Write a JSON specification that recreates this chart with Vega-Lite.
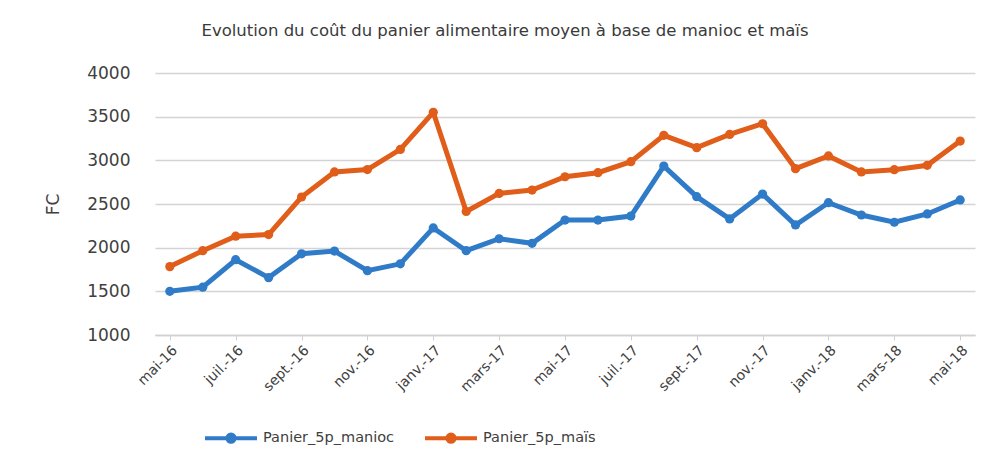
{
  "$schema": "https://vega.github.io/schema/vega-lite/v6.json",
  "autosize": {"type": "none"},
  "width": 820,
  "height": 262,
  "padding": {"left": 155, "top": 73, "right": 18, "bottom": 134},
  "background": "white",
  "title": {
    "text": "Evolution du coût du panier alimentaire moyen à base de manioc et maïs",
    "font": "DejaVu Sans",
    "fontSize": 16.5,
    "fontWeight": "normal",
    "color": "#3a3a3a",
    "anchor": "middle",
    "dx": -60,
    "offset": 25
  },
  "data": {
    "values": [
      {"mois": "mai-16", "i": 0, "manioc": 1500, "mais": 1783},
      {"mois": "juin-16", "i": 1, "manioc": 1547, "mais": 1965},
      {"mois": "juil.-16", "i": 2, "manioc": 1862, "mais": 2132},
      {"mois": "août-16", "i": 3, "manioc": 1657, "mais": 2150},
      {"mois": "sept.-16", "i": 4, "manioc": 1930, "mais": 2580},
      {"mois": "oct.-16", "i": 5, "manioc": 1961, "mais": 2867},
      {"mois": "nov.-16", "i": 6, "manioc": 1736, "mais": 2894},
      {"mois": "déc.-16", "i": 7, "manioc": 1815, "mais": 3125},
      {"mois": "janv.-17", "i": 8, "manioc": 2226, "mais": 3550},
      {"mois": "févr.-17", "i": 9, "manioc": 1965, "mais": 2414},
      {"mois": "mars-17", "i": 10, "manioc": 2102, "mais": 2621},
      {"mois": "avr.-17", "i": 11, "manioc": 2050, "mais": 2660},
      {"mois": "mai-17", "i": 12, "manioc": 2316, "mais": 2812},
      {"mois": "juin-17", "i": 13, "manioc": 2316, "mais": 2858},
      {"mois": "juil.-17", "i": 14, "manioc": 2362, "mais": 2984},
      {"mois": "août-17", "i": 15, "manioc": 2934, "mais": 3286},
      {"mois": "sept.-17", "i": 16, "manioc": 2584, "mais": 3145},
      {"mois": "oct.-17", "i": 17, "manioc": 2329, "mais": 3297},
      {"mois": "nov.-17", "i": 18, "manioc": 2614, "mais": 3419},
      {"mois": "déc.-17", "i": 19, "manioc": 2260, "mais": 2905},
      {"mois": "janv.-18", "i": 20, "manioc": 2515, "mais": 3050},
      {"mois": "févr.-18", "i": 21, "manioc": 2374, "mais": 2867},
      {"mois": "mars-18", "i": 22, "manioc": 2291, "mais": 2893},
      {"mois": "avr.-18", "i": 23, "manioc": 2386, "mais": 2943},
      {"mois": "mai-18", "i": 24, "manioc": 2546, "mais": 3221}
    ]
  },
  "transform": [
    {"fold": ["manioc", "mais"], "as": ["serie", "valeur"]},
    {"calculate": "datum.serie === 'manioc' ? 'Panier_5p_manioc' : 'Panier_5p_maïs'", "as": "Série"}
  ],
  "mark": {
    "type": "line",
    "strokeWidth": 5,
    "point": {"filled": true, "size": 85}
  },
  "encoding": {
    "x": {
      "field": "mois",
      "type": "ordinal",
      "sort": {"field": "i"},
      "scale": {"type": "point", "padding": 0.45},
      "axis": {
        "title": null,
        "values": ["mai-16", "juil.-16", "sept.-16", "nov.-16", "janv.-17", "mars-17", "mai-17", "juil.-17", "sept.-17", "nov.-17", "janv.-18", "mars-18", "mai-18"],
        "labelAngle": -45,
        "labelFont": "DejaVu Sans",
        "labelFontSize": 14,
        "labelColor": "#404040",
        "labelPadding": 3,
        "domainColor": "#d0d0d0",
        "domainWidth": 1.5,
        "tickColor": "#d0d0d0",
        "tickSize": 5,
        "grid": false
      }
    },
    "y": {
      "field": "valeur",
      "type": "quantitative",
      "scale": {"domain": [1000, 4000], "nice": false, "zero": false},
      "axis": {
        "title": "FC",
        "titleFont": "DejaVu Sans",
        "titleFontSize": 17,
        "titleFontWeight": "normal",
        "titleColor": "#404040",
        "titlePadding": 24,
        "values": [1000, 1500, 2000, 2500, 3000, 3500, 4000],
        "format": "d",
        "labelFont": "DejaVu Sans",
        "labelFontSize": 17,
        "labelColor": "#404040",
        "labelPadding": 25,
        "ticks": false,
        "domain": false,
        "gridColor": "#d4d4d4",
        "gridWidth": 1.5
      }
    },
    "color": {
      "field": "Série",
      "type": "nominal",
      "scale": {"domain": ["Panier_5p_manioc", "Panier_5p_maïs"], "range": ["#2f7bc8", "#e05d1a"]},
      "legend": {
        "title": null,
        "orient": "none",
        "direction": "horizontal",
        "legendX": 48,
        "legendY": 337,
        "labelFont": "DejaVu Sans",
        "labelFontSize": 14.5,
        "labelColor": "#404040",
        "symbolType": "M -1 0 L 1 0 M 0.14 0 A 0.14 0.14 0 1 1 -0.14 0 A 0.14 0.14 0 1 1 0.14 0",
        "symbolSize": 2700,
        "symbolStrokeWidth": 4,
        "labelOffset": 4,
        "columnPadding": 22
      }
    }
  },
  "config": {"view": {"stroke": null}}
}
